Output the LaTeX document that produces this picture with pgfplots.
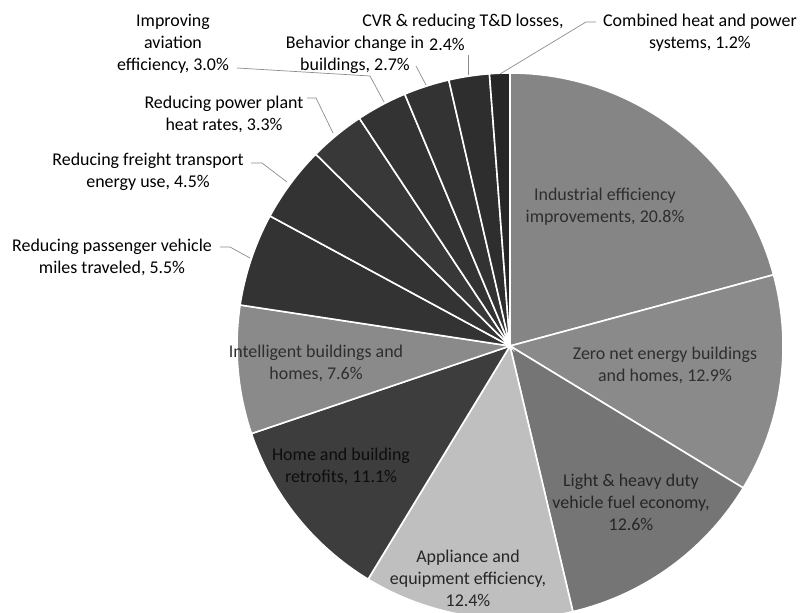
\documentclass[border=0pt]{standalone}
\usepackage{pgfplots}
\pgfplotsset{compat=1.18}
\usepackage{pgfplotstable}
\usepackage{fontspec}
\setmainfont{Carlito}
\tikzset{lbl/.style={font=\fontsize{18}{22}\selectfont, align=center, inner sep=0pt}}

% share (%)  darkness (black!n)
\pgfplotstableread{
value shade
20.8 48
12.9 46
12.6 54
12.4 25
11.1 76
7.6 46
5.5 80
4.5 80
3.3 78
3.0 80
2.7 80
2.4 82
1.2 85
}\piedata

\begin{document}
\begin{tikzpicture}
\begin{axis}[name=ax, x=1bp, y=1bp, xmin=-510, xmax=294, ymin=-267, ymax=346,
  hide axis, clip=false, anchor=south west, at={(0,0)}]
\pgfplotstablegetrowsof{\piedata}
\pgfmathtruncatemacro\N{\pgfplotsretval-1}
\def\cum{0}
\pgfplotsforeachungrouped \i in {0,...,\N}{%
  \pgfplotstablegetelem{\i}{value}\of\piedata \let\v\pgfplotsretval
  \pgfplotstablegetelem{\i}{shade}\of\piedata \let\s\pgfplotsretval
  \pgfmathsetmacro\a{90-\cum*3.6}%
  \pgfmathsetmacro\b{90-(\cum+\v)*3.6}%
  \edef\temp{\noexpand\fill[black!\s, draw=white, line width=1.6pt]
    (axis cs:0,0) -- (axis cs:{273*cos(\a)},{273*sin(\a)})
    arc[start angle=\a, end angle=\b, radius=273bp] -- cycle;}%
  \temp
  \pgfmathsetmacro\cum{\cum+\v}%
}
% inside labels
\node[lbl, text=black!82] at (axis cs:95,139) {Industrial efficiency\\improvements, 20.8\%};
\node[lbl, text=black!82] at (axis cs:155,-19) {Zero net energy buildings\\and homes, 12.9\%};
\node[lbl, text=black!85] at (axis cs:121,-156) {Light \& heavy duty\\vehicle fuel economy,\\12.6\%};
\node[lbl, text=black!85] at (axis cs:-42,-232) {Appliance and\\equipment efficiency,\\12.4\%};
\node[lbl, text=black!95] at (axis cs:-169,-120) {Home and building\\retrofits, 11.1\%};
\node[lbl, text=black!82] at (axis cs:-194,-17) {Intelligent buildings and\\homes, 7.6\%};
% outside labels
\node[lbl] at (axis cs:-398,89) {Reducing passenger vehicle\\miles traveled, 5.5\%};
\node[lbl] at (axis cs:-362,174) {Reducing freight transport\\energy use, 4.5\%};
\node[lbl] at (axis cs:-286,232) {Reducing power plant\\heat rates, 3.3\%};
\node[lbl] at (axis cs:-337,302) {Improving\\aviation\\efficiency, 3.0\%};
\node[lbl] at (axis cs:-155,291) {Behavior change in\\buildings, 2.7\%};
\node[lbl] at (axis cs:-47,324) {CVR \& reducing T\&D losses,};
\node[lbl] at (axis cs:-63,302) {2.4\%};
\node[lbl] at (axis cs:190,313) {Combined heat and power\\systems, 1.2\%};
% leader lines
\draw[black!45, line width=0.7pt] (axis cs:-290,99) -- (axis cs:-280,99) -- (axis cs:-260,88);
\draw[black!45, line width=0.7pt] (axis cs:-259,183) -- (axis cs:-248,183) -- (axis cs:-223,164);
\draw[black!45, line width=0.7pt] (axis cs:-203,248) -- (axis cs:-194,248) -- (axis cs:-177,213);
\draw[black!45, line width=0.7pt] (axis cs:-273,278) -- (axis cs:-140,270) -- (axis cs:-126,244);
\draw[black!45, line width=0.7pt] (axis cs:-94,280) -- (axis cs:-84,261);
\draw[black!45, line width=0.7pt] (axis cs:-42,291) -- (axis cs:-42,271);
\draw[black!45, line width=0.7pt] (axis cs:86,324) -- (axis cs:76,324) -- (axis cs:-10,272);
\end{axis}
\pgfresetboundingbox
\path (ax.south west) rectangle (ax.north east);
\end{tikzpicture}
\end{document}
